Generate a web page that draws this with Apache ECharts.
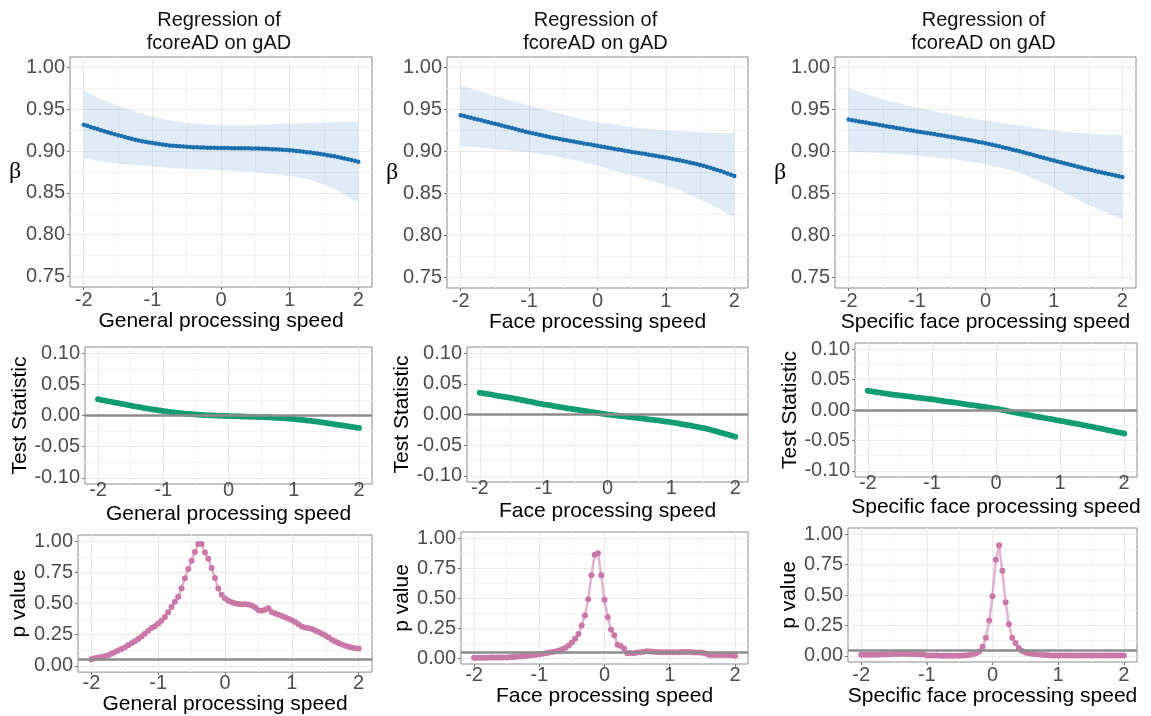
<!DOCTYPE html>
<html>
<head>
<meta charset="utf-8">
<script src="https://cdn.jsdelivr.net/npm/echarts@6/dist/echarts.min.js"></script>
<style>
  html, body { margin: 0; padding: 0; background: #fff; }
  #chart { width: 1151px; height: 716px; }
</style>
</head>
<body>
<div id="chart"></div>
<script>
// x positions of the points (standardised speed)
const speed = [-2,-1.95,-1.9,-1.85,-1.8,-1.75,-1.7,-1.65,-1.6,-1.55,-1.5,-1.45,-1.4,-1.35,-1.3,-1.25,-1.2,-1.15,-1.1,-1.05,
  -1,-0.95,-0.9,-0.85,-0.8,-0.75,-0.7,-0.65,-0.6,-0.55,-0.5,-0.45,-0.4,-0.35,-0.3,-0.25,-0.2,-0.15,-0.1,-0.05,
  0,0.05,0.1,0.15,0.2,0.25,0.3,0.35,0.4,0.45,0.5,0.55,0.6,0.65,0.7,0.75,0.8,0.85,0.9,0.95,
  1,1.05,1.1,1.15,1.2,1.25,1.3,1.35,1.4,1.45,1.5,1.55,1.6,1.65,1.7,1.75,1.8,1.85,1.9,1.95,2];
// x positions where the confidence band was read
const bandSpeed = [-2,-1.75,-1.5,-1.25,-1,-0.75,-0.5,-0.25,0,0.25,0.5,0.75,1,1.25,1.5,1.75,2];

const xNames = ['General processing speed', 'Face processing speed', 'Specific face processing speed'];
const panelTitle = 'Regression of\nfcoreAD on gAD';
const rowNames = ['β', 'Test Statistic', 'p value'];

const xTicks = [-2, -1, 0, 1, 2];
const xMinor = [-1.5, -0.5, 0.5, 1.5];
const betaTicks = [0.75, 0.8, 0.85, 0.9, 0.95, 1];
const betaMinor = [0.775, 0.825, 0.875, 0.925, 0.975];
const statTicks = [-0.1, -0.05, 0, 0.05, 0.1];
const statMinor = [-0.075, -0.025, 0.025, 0.075];
const pTicks = [0, 0.25, 0.5, 0.75, 1];
const pMinor = [0.125, 0.375, 0.625, 0.875];

// beta estimates
const betaGeneral = [.9315,.9302,.9289,.9276,.9263,.9250,.9238,.9226,.9214,.9202,
  .9190,.9179,.9168,.9157,.9147,.9137,.9128,.9119,.9111,.9103,
  .9096,.9090,.9084,.9078,.9073,.9068,.9064,.9060,.9057,.9054,
  .9051,.9049,.9047,.9045,.9043,.9042,.9041,.9040,.9039,.9038,
  .9037,.9036,.9036,.9035,.9035,.9034,.9034,.9033,.9033,.9032,
  .9032,.9030,.9029,.9027,.9025,.9023,.9021,.9018,.9016,.9013,
  .9010,.9006,.9002,.8997,.8992,.8987,.8982,.8976,.8970,.8964,
  .8958,.8951,.8944,.8937,.8929,.8921,.8912,.8903,.8894,.8884,
  .8874];
const betaFace = [.9433,.9423,.9412,.9402,.9391,.9381,.9371,.9361,.9350,.9340,
  .9330,.9320,.9310,.9299,.9289,.9279,.9268,.9257,.9247,.9236,
  .9226,.9217,.9208,.9199,.9191,.9182,.9174,.9165,.9157,.9148,
  .9140,.9133,.9125,.9118,.9111,.9104,.9096,.9089,.9082,.9074,
  .9067,.9060,.9053,.9045,.9038,.9031,.9024,.9017,.9010,.9002,
  .8995,.8989,.8982,.8976,.8969,.8962,.8955,.8948,.8941,.8935,
  .8928,.8920,.8912,.8903,.8895,.8886,.8877,.8868,.8859,.8850,
  .8840,.8829,.8818,.8806,.8793,.8780,.8767,.8753,.8739,.8724,
  .8708];
const betaSpecific = [.9380,.9372,.9365,.9358,.9351,.9344,.9337,.9330,.9323,.9316,
  .9309,.9302,.9295,.9288,.9281,.9274,.9267,.9260,.9253,.9246,
  .9239,.9233,.9226,.9220,.9213,.9207,.9200,.9193,.9187,.9180,
  .9173,.9166,.9159,.9152,.9145,.9137,.9130,.9122,.9114,.9106,
  .9098,.9089,.9080,.9071,.9062,.9052,.9042,.9032,.9022,.9012,
  .9002,.8991,.8980,.8969,.8958,.8947,.8936,.8925,.8914,.8903,
  .8892,.8881,.8871,.8860,.8850,.8839,.8829,.8819,.8809,.8799,
  .8789,.8779,.8769,.8760,.8750,.8741,.8731,.8722,.8713,.8704,
  .8695];

// confidence bands (upper / lower)
const upperGeneral = [.972,.962,.954,.947,.941,.937,.934,.932,.931,.931,.931,.932,.933,.934,.934,.935,.935];
const lowerGeneral = [.891,.888,.885,.883,.882,.880,.879,.878,.877,.876,.875,.873,.870,.867,.860,.851,.838];
const upperFace = [.979,.972,.966,.960,.955,.949,.944,.939,.935,.932,.929,.927,.925,.924,.923,.922,.922];
const lowerFace = [.906,.905,.903,.901,.899,.896,.892,.888,.883,.877,.871,.866,.860,.852,.843,.833,.821];
const upperSpecific = [.976,.969,.962,.957,.952,.948,.944,.940,.937,.934,.931,.928,.925,.923,.921,.920,.920];
const lowerSpecific = [.900,.899,.898,.897,.895,.893,.891,.888,.885,.880,.875,.866,.857,.847,.837,.828,.819];

// test statistics
const statGeneral = [.0260,.0250,.0240,.0230,.0220,.0210,.0200,.0190,.0180,.0170,
  .0160,.0150,.0140,.0131,.0122,.0113,.0104,.0096,.0088,.0080,
  .0072,.0065,.0058,.0051,.0045,.0039,.0034,.0029,.0024,.0020,
  .0016,.0012,.0009,.0006,.0003,.0001,-.0001,-.0003,-.0005,-.0007,
  -.0009,-.0011,-.0013,-.0014,-.0016,-.0017,-.0019,-.0020,-.0022,-.0024,
  -.0026,-.0028,-.0030,-.0033,-.0036,-.0039,-.0042,-.0046,-.0050,-.0054,
  -.0058,-.0063,-.0068,-.0073,-.0079,-.0085,-.0091,-.0098,-.0105,-.0112,
  -.0119,-.0127,-.0135,-.0143,-.0151,-.0159,-.0167,-.0175,-.0183,-.0191,
  -.0199];
const statFace = [.0356,.0347,.0338,.0329,.0320,.0311,.0303,.0294,.0285,.0277,
  .0268,.0258,.0248,.0237,.0227,.0216,.0206,.0195,.0185,.0175,
  .0165,.0157,.0149,.0140,.0132,.0124,.0116,.0107,.0099,.0091,
  .0083,.0075,.0066,.0058,.0050,.0041,.0033,.0025,.0016,.0008,
  .0000,-.0006,-.0012,-.0018,-.0024,-.0030,-.0036,-.0042,-.0048,-.0054,
  -.0060,-.0067,-.0073,-.0080,-.0086,-.0093,-.0099,-.0106,-.0113,-.0119,
  -.0126,-.0135,-.0144,-.0153,-.0162,-.0172,-.0181,-.0191,-.0200,-.0210,
  -.0220,-.0233,-.0246,-.0260,-.0274,-.0288,-.0302,-.0317,-.0331,-.0346,
  -.0361];
const statSpecific = [.0314,.0306,.0298,.0290,.0282,.0275,.0267,.0259,.0252,.0245,
  .0238,.0232,.0226,.0220,.0213,.0207,.0201,.0194,.0188,.0182,
  .0175,.0168,.0160,.0153,.0145,.0137,.0130,.0122,.0114,.0107,
  .0099,.0091,.0083,.0076,.0068,.0060,.0053,.0045,.0037,.0029,
  .0021,.0011,.0001,-.0010,-.0020,-.0031,-.0041,-.0052,-.0062,-.0073,
  -.0083,-.0092,-.0102,-.0111,-.0120,-.0130,-.0139,-.0148,-.0157,-.0167,
  -.0176,-.0186,-.0196,-.0206,-.0216,-.0226,-.0236,-.0246,-.0256,-.0266,
  -.0276,-.0287,-.0298,-.0309,-.0320,-.0331,-.0342,-.0353,-.0364,-.0375,
  -.0386];

// p values
const pGeneral = [.054,.062,.068,.072,.078,.086,.097,.110,.124,.136,
  .148,.165,.182,.198,.215,.235,.257,.281,.303,.318,
  .340,.362,.392,.430,.473,.514,.554,.622,.703,.778,
  .843,.914,.978,.978,.910,.860,.785,.705,.620,.570,
  .540,.522,.510,.502,.497,.495,.494,.493,.484,.468,
  .447,.443,.450,.463,.433,.420,.410,.400,.390,.378,
  .366,.352,.333,.316,.307,.302,.296,.284,.272,.258,
  .243,.227,.210,.196,.183,.172,.162,.154,.147,.142,
  .140];
const pFace = [.003,.003,.003,.003,.003,.004,.004,.004,.004,.005,
  .005,.006,.008,.010,.012,.014,.017,.020,.024,.028,
  .032,.036,.040,.045,.050,.055,.062,.072,.085,.105,
  .130,.160,.200,.270,.355,.490,.690,.860,.872,.690,
  .485,.340,.235,.190,.110,.100,.080,.040,.042,.040,
  .045,.048,.052,.056,.055,.052,.050,.048,.048,.048,
  .047,.047,.047,.048,.050,.050,.049,.047,.046,.045,
  .043,.037,.028,.026,.025,.025,.025,.026,.025,.022,
  .018];
const pSpecific = [.010,.010,.010,.010,.010,.010,.011,.012,.013,.014,
  .015,.016,.017,.017,.016,.015,.014,.013,.012,.011,
  .004,.003,.003,.003,.002,.002,.002,.002,.002,.002,
  .002,.003,.005,.008,.013,.022,.036,.075,.150,.290,
  .490,.790,.908,.700,.440,.260,.150,.105,.064,.040,
  .028,.022,.018,.014,.012,.009,.007,.005,.004,.003,
  .003,.003,.003,.003,.003,.003,.003,.003,.003,.003,
  .003,.003,.003,.003,.003,.003,.003,.003,.004,.004,
  .004];
const pCutoff = 0.05;

// layout of the 9 panels: [left, top, width, height], x label margin, x name gap, y name gap
const boxes = [
  [70, 57, 302, 230, 3, 24, 43], [447, 57, 301, 231, 3, 23, 43], [835, 57, 301, 231, 3, 22, 43],
  [85, 347, 287, 137, -4, 20, 44], [467, 347, 281, 135, -4, 19, 44], [855, 343, 282, 134, -4, 20, 44],
  [78, 535, 294, 138, 1, 21, 35], [461, 532, 287, 132, 1, 22, 33], [848, 528, 289, 134, 3, 20, 33]
];

const SANS = 'Liberation Sans, Arial, sans-serif';
const BLUE = '#1b6fae', GREEN = '#119c72', PINK = '#c978a8';
const rows = [
  { min: 0.7375, max: 1.0125, ticks: betaTicks, minor: betaMinor, data: [betaGeneral, betaFace, betaSpecific],
    upper: [upperGeneral, upperFace, upperSpecific], lower: [lowerGeneral, lowerFace, lowerSpecific] },
  { min: -0.11, max: 0.11, ticks: statTicks, minor: statMinor, data: [statGeneral, statFace, statSpecific], ref: 0 },
  { min: -0.05, max: 1.05, ticks: pTicks, minor: pMinor, data: [pGeneral, pFace, pSpecific], ref: pCutoff }
];

const grid = [], xAxis = [], yAxis = [], series = [], title = [];

boxes.forEach(function (b, i) {
  const r = Math.floor(i / 3), c = i % 3;
  const row = rows[r];
  grid.push({ left: b[0], top: b[1], width: b[2], height: b[3], show: true,
    borderColor: '#8a8a8a', borderWidth: 1, backgroundColor: '#fff' });

  // major x axis (labels, ticks, major grid) + minor one (grid only)
  xAxis.push({
    type: 'value', gridIndex: i, min: -2.2, max: 2.2,
    name: xNames[c], nameLocation: 'middle', nameGap: b[5],
    nameTextStyle: { fontSize: 21, color: '#000', fontFamily: SANS },
    axisLine: { show: false, onZero: false },
    axisTick: { show: true, customValues: xTicks, length: 3, lineStyle: { color: '#777' } },
    axisLabel: { customValues: xTicks, margin: b[4], fontSize: 20, color: '#4d4d4d', fontFamily: SANS,
      formatter: function (v) { return String(v); } },
    splitLine: { show: true, lineStyle: { color: '#e9e9e9', width: 1 } }
  });
  xAxis.push({
    type: 'value', gridIndex: i, min: -2.2, max: 2.2, position: 'bottom',
    axisLine: { show: false, onZero: false },
    axisTick: { show: false, customValues: xMinor },
    axisLabel: { show: false },
    splitLine: { show: true, lineStyle: { color: '#f3f3f3', width: 1 } }
  });

  const yName = { name: rowNames[r], nameLocation: 'middle', nameGap: b[6],
    nameTextStyle: { fontSize: 21, color: '#000', fontFamily: SANS } };
  if (r === 0) {
    yName.nameRotate = 0;
    yName.nameTextStyle = { fontSize: 24, color: '#000', fontFamily: 'Liberation Serif, serif' };
  }
  yAxis.push(Object.assign({
    type: 'value', gridIndex: i, min: row.min, max: row.max,
    axisLine: { show: false, onZero: false },
    axisTick: { show: true, customValues: row.ticks, length: 3, lineStyle: { color: '#777' } },
    axisLabel: { customValues: row.ticks, margin: 5, fontSize: 20, color: '#4d4d4d', fontFamily: SANS,
      formatter: function (v) { return v.toFixed(2); } },
    splitLine: { show: true, lineStyle: { color: '#e9e9e9', width: 1 } }
  }, yName));
  yAxis.push({
    type: 'value', gridIndex: i, min: row.min, max: row.max, position: 'left',
    axisLine: { show: false, onZero: false },
    axisTick: { show: false, customValues: row.minor },
    axisLabel: { show: false },
    splitLine: { show: true, lineStyle: { color: '#f3f3f3', width: 1 } }
  });

  const xi = 2 * i, yi = 2 * i;
  const values = row.data[c];
  const pts = speed.map(function (x, k) { return [x, values[k]]; });

  if (r === 0) {
    const hi = row.upper[c], lo = row.lower[c];
    title.push({ text: panelTitle, left: b[0] + b[2] / 2 - 2, top: 9, textAlign: 'center', padding: 0,
      textStyle: { fontSize: 20, fontWeight: 'normal', color: '#111', lineHeight: 23, fontFamily: SANS } });
    // ribbon drawn as one polygon through the band points
    series.push({
      type: 'custom', xAxisIndex: xi, yAxisIndex: yi, silent: true, z: 1,
      data: bandSpeed.map(function (x, k) { return [x, lo[k], hi[k]]; }),
      encode: { x: 0, y: [1, 2] },
      renderItem: function (params, api) {
        if (params.dataIndex !== 0) return null;
        const poly = [];
        for (let k = 0; k < bandSpeed.length; k++) poly.push(api.coord([bandSpeed[k], hi[k]]));
        for (let k = bandSpeed.length - 1; k >= 0; k--) poly.push(api.coord([bandSpeed[k], lo[k]]));
        return { type: 'polygon', shape: { points: poly }, style: { fill: 'rgba(105,160,212,0.21)' } };
      }
    });
    series.push({
      type: 'line', xAxisIndex: xi, yAxisIndex: yi, data: pts, z: 3,
      symbol: 'circle', symbolSize: 4.5, showSymbol: true,
      lineStyle: { color: BLUE, width: 1.5 }, itemStyle: { color: BLUE }
    });
  } else {
    const isStat = r === 1;
    series.push({
      type: 'line', xAxisIndex: xi, yAxisIndex: yi, data: pts, z: 3,
      symbol: 'circle', symbolSize: 6, showSymbol: true,
      lineStyle: isStat ? { color: GREEN, width: 3 } : { color: 'rgba(201,120,168,0.55)', width: 2.5 },
      itemStyle: { color: isStat ? GREEN : PINK },
      markLine: {
        silent: true, symbol: 'none', label: { show: false },
        lineStyle: { color: '#8c8c8c', width: 2.5, type: 'solid' },
        data: [{ yAxis: row.ref }]
      }
    });
  }
});

const myChart = echarts.init(document.getElementById('chart'));
myChart.setOption({
  animation: false,
  backgroundColor: '#fff',
  title: title,
  grid: grid,
  xAxis: xAxis,
  yAxis: yAxis,
  series: series
});
</script>
</body>
</html>
